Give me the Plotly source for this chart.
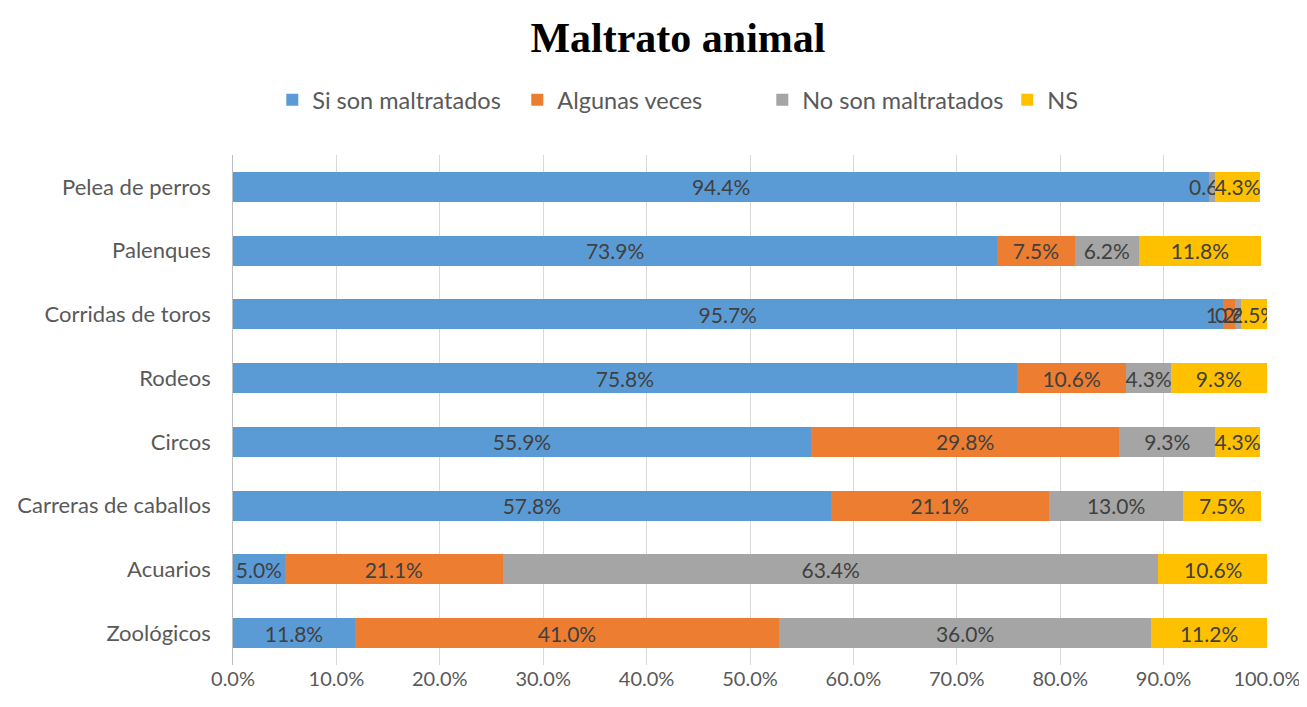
import plotly.graph_objects as go

categories = [
    "Pelea de perros",
    "Palenques",
    "Corridas de toros",
    "Rodeos",
    "Circos",
    "Carreras de caballos",
    "Acuarios",
    "Zoológicos",
]
si_maltratados = [94.4, 73.9, 95.7, 75.8, 55.9, 57.8, 5.0, 11.8]
algunas_veces = [0.0, 7.5, 1.2, 10.6, 29.8, 21.1, 21.1, 41.0]
no_maltratados = [0.6, 6.2, 0.6, 4.3, 9.3, 13.0, 63.4, 36.0]
ns = [4.3, 11.8, 2.5, 9.3, 4.3, 7.5, 10.6, 11.2]

series = [
    ("Si son maltratados", si_maltratados, "#5B9BD5"),
    ("Algunas veces", algunas_veces, "#ED7D31"),
    ("No son maltratados", no_maltratados, "#A5A5A5"),
    ("NS", ns, "#FFC000"),
]

fig = go.Figure()
for name, vals, color in series:
    fig.add_bar(
        y=categories,
        x=vals,
        name=name,
        orientation="h",
        marker={"color": color, "line": {"width": 0}},
        text=[f"{v:.1f}%" for v in vals],
        textposition="inside",
        insidetextanchor="middle",
        constraintext="none",
        textangle=0,
        textfont={"family": "Lato", "size": 21, "color": "#404040"},
    )

# page body has an 8px margin, so positions are shifted by 8px
fig.update_layout(
    barmode="stack",
    bargap=0.53,
    width=1307,
    height=707,
    paper_bgcolor="white",
    plot_bgcolor="white",
    font={"family": "Lato", "color": "#595959"},
    title={
        "text": "<b>Maltrato animal</b>",
        "x": 0.5126,
        "xanchor": "center",
        "y": 1 - 29 / 707,
        "yanchor": "middle",
        "font": {"family": "Liberation Serif", "size": 42, "color": "#000000"},
    },
    legend={
        "orientation": "h",
        "x": 0.038,
        "xanchor": "left",
        "yref": "container",
        "y": 1 - 92 / 707,
        "yanchor": "middle",
        "font": {"size": 23.5, "color": "#595959"},
        "traceorder": "normal",
        "itemwidth": 30,
        "entrywidth": 200,
        "entrywidthmode": "pixels",
    },
    margin={"l": 225, "r": 48, "t": 147, "b": 50, "autoexpand": False},
    xaxis={
        "range": [0, 100],
        "tickvals": list(range(0, 101, 10)),
        "ticktext": [f"{v:.1f}%" for v in range(0, 101, 10)],
        "showgrid": True,
        "gridcolor": "#D9D9D9",
        "zeroline": False,
        "automargin": False,
        "tickfont": {"size": 20, "color": "#595959"},
        "ticks": "",
    },
    yaxis={
        "categoryorder": "array",
        "categoryarray": categories,
        "autorange": "reversed",
        "showline": True,
        "linecolor": "#BFBFBF",
        "automargin": False,
        "ticks": "",
        "ticksuffix": "   ",
        "tickfont": {"size": 22, "color": "#595959"},
    },
)

fig.write_html("out.html")
